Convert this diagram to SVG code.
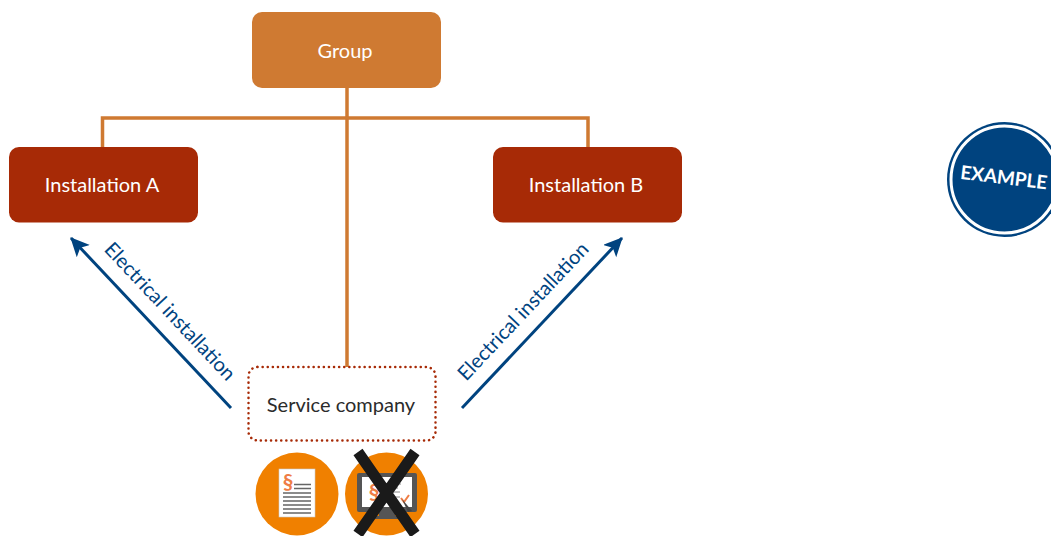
<svg xmlns="http://www.w3.org/2000/svg" width="1051" height="536" viewBox="0 0 1051 536">
<style>
text{font-family:"Lato","Open Sans","Liberation Sans",sans-serif}
.lbl{font-size:20px;fill:#fff;text-anchor:middle}
.inst{fill:#a72a06}
.conn{fill:none;stroke:#cf7a32;stroke-width:3.5}
.arrow{fill:none;stroke:#00437f;stroke-width:3;marker-end:url(#ah)}
.elec{font-size:20px;fill:#00437f;text-anchor:middle}
.disc{fill:#f08000}
.pg{fill:#fff}
.rule{stroke:#666;stroke-width:1.6}
.sec{font-size:21px;font-weight:700;fill:#ef7d45;text-anchor:middle}
</style>
<defs>
<marker id="ah" markerUnits="userSpaceOnUse" markerWidth="22" markerHeight="20" refX="18" refY="9" orient="auto">
<path d="M0 0L19 9L0 18L4.5 9Z" fill="#00437f"/>
</marker>
</defs>
<rect width="1051" height="536" fill="#fff"/>
<g id="connectors">
<path class="conn" d="M347 87V368"/>
<path class="conn" d="M102.500 147V118H588V147"/>
<path class="arrow" d="M231 408L71 238"/>
<path class="arrow" d="M462 408L622 238"/>
</g>
<g id="group"><rect x="252" y="12" width="189" height="76" rx="10" fill="#cf7a32"/><text class="lbl" x="345" y="58">Group</text></g>
<g id="installation-a"><rect class="inst" x="9" y="147" width="189" height="75.500" rx="10"/><text class="lbl" x="102" y="192">Installation A</text></g>
<g id="installation-b"><rect class="inst" x="493" y="147" width="189" height="75.500" rx="10"/><text class="lbl" x="586" y="192">Installation B</text></g>
<g id="service-company"><rect x="248.500" y="367" width="187" height="73.500" rx="9" fill="#fff" stroke="#a72a06" stroke-width="2.500" stroke-dasharray="0.100 5" stroke-linecap="round"/><text x="341" y="412" font-size="20" fill="#2b2b2b" text-anchor="middle">Service company</text></g>
<g id="label-left"><text class="elec" transform="translate(165 316) rotate(46.800)">Electrical installation</text></g>
<g id="label-right"><text class="elec" transform="translate(528 316) rotate(-46.800)">Electrical installation</text></g>
<g id="icon-document">
<circle class="disc" cx="297" cy="494" r="41.500"/>
<rect x="279" y="469" width="36" height="48" fill="#fff" stroke="#c9c9c9" stroke-width="0.600"/>
<text class="sec" x="288" y="489">§</text>
<path class="rule" d="M294 484.500h17M294 488.500h17M283 493h28M283 497h28M283 501h28M283 505h28M283 509h28M283 513h28"/>
</g>
<g id="icon-screen">
<circle class="disc" cx="386.500" cy="494" r="41.500"/>
<path d="M379 510h16v6h8v3h-32v-3h8z" fill="#555"/>
<rect x="357" y="473" width="60" height="39" rx="2" fill="#555"/>
<rect x="362" y="477" width="50" height="30" fill="#fff"/>
<text class="sec" x="374" y="499">§</text>
<path d="M386 484h15M386 488h12M386 492h14M388 497h12" stroke="#888" stroke-width="1" fill="none"/>
<path d="M401 498l3 4 5-7" stroke="#ef7d45" stroke-width="2" fill="none"/>
<path d="M402 499l10 12-4 1z" fill="#444"/>
<path d="M358 452L415 534M415 452L358 534" stroke="#1a1a1a" stroke-width="11" fill="none"/>
</g>
<g id="example-badge">
<circle cx="1004.500" cy="179.500" r="57.500" fill="#00437f"/>
<circle cx="1004.500" cy="179.500" r="53.500" fill="none" stroke="#fff" stroke-width="3"/>
<text transform="translate(1003 184) rotate(7)" font-size="19" font-weight="700" fill="#fff" text-anchor="middle">EXAMPLE</text>
</g>
</svg>
